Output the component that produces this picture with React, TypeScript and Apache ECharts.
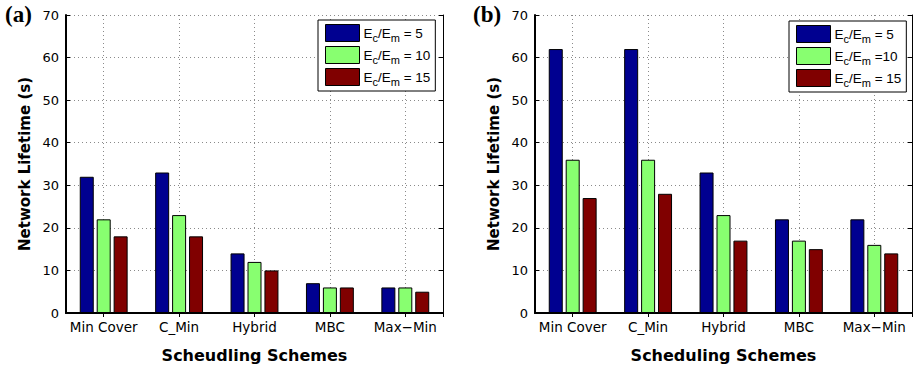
import React, { useEffect, useRef } from 'react';
import * as echarts from 'echarts';

// Scheduling schemes on the x axis
const schemes = ['Min Cover', 'C_Min', 'Hybrid', 'MBC', 'Max\u2212Min'];

// Panel (a): network lifetime (s) for each Ec/Em ratio
const lifetimeA5 = [32, 33, 14, 7, 6];
const lifetimeA10 = [22, 23, 12, 6, 6];
const lifetimeA15 = [18, 18, 10, 6, 5];

// Panel (b): network lifetime (s) for each Ec/Em ratio
const lifetimeB5 = [62, 62, 33, 22, 22];
const lifetimeB10 = [36, 36, 23, 17, 16];
const lifetimeB15 = [27, 28, 17, 15, 14];

// Legend suffixes after "Ec/Em"
const legendSuffixA = [' = 5', ' = 10', ' = 15'];
const legendSuffixB = [' = 5', ' =10', ' = 15'];

const xTitles = ['Scheudling Schemes', 'Scheduling Schemes'];
const yTitle = 'Network Lifetime (s)';
const panelTags = ['(a)', '(b)'];

const barColors = ['#000090', '#88ff70', '#800000'];

const FONT = 'DejaVu Sans';
const LEGEND_FONT = 'Liberation Sans';

// half-slot axis: every scheme is split into two halves so that odd
// boundaries fall on the scheme centres (used for top ticks and vertical grid)
const halfSlots = schemes.flatMap(() => ['', '']);

export default function App() {
  const ref = useRef<HTMLDivElement>(null);

  useEffect(() => {
    document.body.style.margin = '0';
    if (!ref.current) return;
    const chart = echarts.init(ref.current, undefined, { renderer: 'svg' });

    const grids = [
      { left: 66, right: 473, top: 15, bottom: 58 },
      { left: 535, right: 4, top: 15, bottom: 58 },
    ];

    const dotted = { color: '#8a8a8a', width: 1, type: [1, 3] as number[] };
    const oddOnly = (idx: number) => idx % 2 === 1;

    const xAxes: any[] = [];
    const yAxes: any[] = [];
    grids.forEach((_, i) => {
      xAxes.push({
        type: 'category',
        gridIndex: i,
        position: 'bottom',
        data: schemes,
        axisLine: { lineStyle: { color: '#000', width: 2 } },
        axisTick: { show: true, inside: true, alignWithLabel: true, length: 4, lineStyle: { color: '#000' } },
        axisLabel: { color: '#000', fontFamily: FONT, fontSize: 13.5, margin: 7, interval: 0 },
        splitLine: { show: false },
        name: xTitles[i],
        nameLocation: 'middle',
        nameGap: 34,
        nameTextStyle: { color: '#000', fontFamily: FONT, fontSize: 16, fontWeight: 'bold' },
      });
      xAxes.push({
        type: 'category',
        gridIndex: i,
        position: 'top',
        data: halfSlots,
        axisLine: { show: true, lineStyle: { color: '#000', width: 1 } },
        axisTick: { show: true, inside: true, interval: oddOnly, length: 4, lineStyle: { color: '#000' } },
        axisLabel: { show: false },
        splitLine: { show: true, interval: oddOnly, lineStyle: dotted },
      });
      yAxes.push({
        type: 'value',
        gridIndex: i,
        position: 'left',
        min: 0,
        max: 70,
        interval: 10,
        axisLine: { show: true, lineStyle: { color: '#000', width: 2 } },
        axisTick: { show: true, inside: true, length: 4, lineStyle: { color: '#000' } },
        axisLabel: { color: '#000', fontFamily: FONT, fontSize: 13, margin: 7 },
        splitLine: { show: true, lineStyle: dotted },
        name: yTitle,
        nameLocation: 'middle',
        nameGap: 34,
        nameRotate: 90,
        nameTextStyle: { color: '#000', fontFamily: FONT, fontSize: 15, fontWeight: 'bold' },
      });
      yAxes.push({
        type: 'value',
        gridIndex: i,
        position: 'right',
        min: 0,
        max: 70,
        interval: 10,
        axisLine: { show: true, lineStyle: { color: '#000', width: 1 } },
        axisTick: { show: true, inside: true, length: 4, lineStyle: { color: '#000' } },
        axisLabel: { show: false },
        splitLine: { show: false },
      });
    });

    const panelData = [
      [lifetimeA5, lifetimeA10, lifetimeA15],
      [lifetimeB5, lifetimeB10, lifetimeB15],
    ];
    const suffixes = [legendSuffixA, legendSuffixB];
    const names: string[][] = [[], []];
    const labelFor: Record<string, string> = {};

    const series: any[] = [];
    panelData.forEach((sets, p) => {
      sets.forEach((vals, k) => {
        const name = `${p === 0 ? 'a' : 'b'}${k}`;
        names[p].push(name);
        labelFor[name] = `{n|E}{s|c}{n|/E}{s|m}{n|${suffixes[p][k]}}`;
        series.push({
          type: 'bar',
          name,
          xAxisIndex: p * 2,
          yAxisIndex: p * 2,
          data: vals,
          barWidth: 14,
          barGap: '21%',
          itemStyle: { color: barColors[k], borderColor: '#000', borderWidth: 1 },
          z: 3,
        });
      });
    });

    const rich = {
      n: { fontFamily: LEGEND_FONT, fontSize: 13.5, color: '#000', lineHeight: 20, verticalAlign: 'middle' },
      s: { fontFamily: LEGEND_FONT, fontSize: 11, color: '#000', lineHeight: 10, verticalAlign: 'bottom' },
    };

    const legendBase = {
      orient: 'vertical',
      icon: 'rect',
      itemWidth: 34,
      itemHeight: 17,
      itemGap: 3,
      backgroundColor: '#fff',
      borderColor: '#000',
      borderWidth: 1,
      borderRadius: 0,
      padding: [4, 5, 4, 7],
      selectedMode: false,
      formatter: (n: string) => labelFor[n],
      textStyle: { rich, padding: [0, 0, 0, -1] },
      itemStyle: { borderColor: '#000', borderWidth: 1 },
    };

    chart.setOption({
      animation: false,
      backgroundColor: '#fff',
      grid: grids.map((g) => ({ ...g, show: false })),
      xAxis: xAxes,
      yAxis: yAxes,
      legend: [
        { ...legendBase, data: names[0], left: 318, top: 20 },
        { ...legendBase, data: names[1], left: 789, top: 21 },
      ],
      graphic: [
        {
          type: 'text',
          left: 5,
          top: 3,
          style: { text: panelTags[0], font: 'bold 23px "Liberation Serif"', fill: '#000' },
        },
        {
          type: 'text',
          left: 473,
          top: 3,
          style: { text: panelTags[1], font: 'bold 23px "Liberation Serif"', fill: '#000' },
        },
      ],
      series,
    });

    return () => chart.dispose();
  }, []);

  return <div ref={ref} style={{ width: 916, height: 371 }} />;
}
